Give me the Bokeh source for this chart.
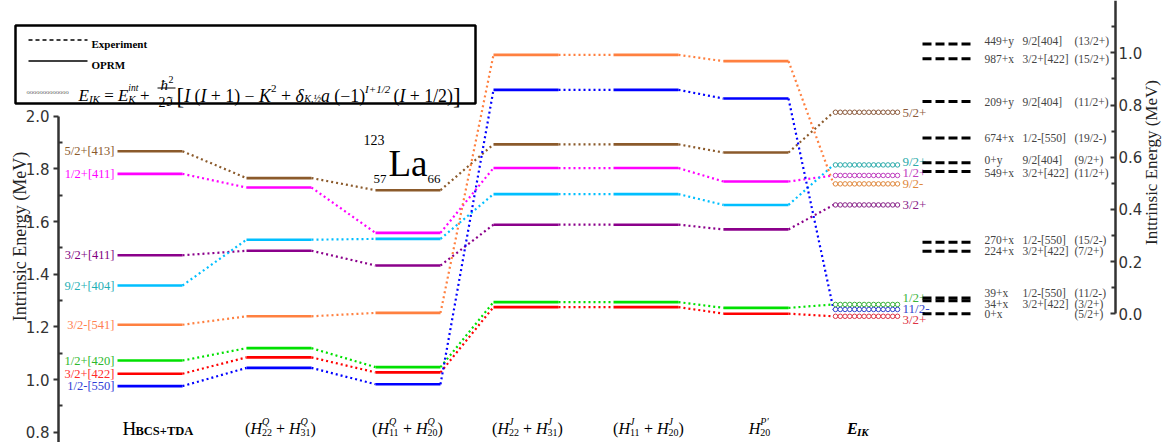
import math
import numpy as np
from bokeh.plotting import figure
from bokeh.models import (Range1d, LinearAxis, FixedTicker, BoxAnnotation, Label,
                          Arrow, ColumnDataSource, PrintfTickFormatter)
from bokeh.core.properties import value
from bokeh.embed import file_html
from bokeh.resources import INLINE

# ---------------- data ----------------
stage_names = ["H BCS+TDA", "(H^Q_22 + H^Q_31)", "(H^Q_11 + H^Q_20)",
               "(H^J_22 + H^J_31)", "(H^J_11 + H^J_20)", "H^P'_20", "E_IK"]
orbitals = ["5/2+[413]", "1/2+[411]", "3/2+[411]", "9/2+[404]",
            "3/2-[541]", "1/2+[420]", "3/2+[422]", "1/2-[550]"]
level_5_2p_413 = [1.867, 1.765, 1.719, 1.893, 1.893, 1.862]
level_1_2p_411 = [1.781, 1.729, 1.557, 1.803, 1.803, 1.752]
level_3_2p_411 = [1.472, 1.489, 1.433, 1.588, 1.588, 1.570]
level_9_2p_404 = [1.357, 1.531, 1.534, 1.704, 1.704, 1.663]
level_3_2m_541 = [1.208, 1.240, 1.253, 2.233, 2.233, 2.209]
level_1_2p_420 = [1.072, 1.119, 1.047, 1.294, 1.294, 1.272]
level_3_2p_422 = [1.022, 1.084, 1.027, 1.275, 1.275, 1.250]
level_1_2m_550 = [0.975, 1.044, 0.982, 2.100, 2.100, 2.067]
eik_energy = [2.015, 1.775, 1.663, 1.815, 1.743, 1.285, 1.240, 1.266]
eik_spin = ["5/2+", "1/2+", "3/2+", "9/2+", "9/2-", "1/2+", "3/2+", "11/2-"]

exp_energy = [1.034, 0.977, 0.813, 0.674, 0.579, 0.545, 0.274, 0.240, 0.061, 0.050, 0.0]
exp_band = ["449+y", "987+x", "209+y", "674+x", "0+y", "549+x",
            "270+x", "224+x", "39+x", "34+x", "0+x"]
exp_config = ["9/2[404]", "3/2+[422]", "9/2[404]", "1/2-[550]", "9/2[404]", "3/2+[422]",
              "1/2-[550]", "3/2+[422]", "1/2-[550]", "3/2+[422]", ""]
exp_spin = ["(13/2+)", "(15/2+)", "(11/2+)", "(19/2-)", "(9/2+)", "(11/2+)",
            "(15/2-)", "(7/2+)", "(11/2-)", "(3/2+)", "(5/2+)"]

left_ticks = [0.8, 1.0, 1.2, 1.4, 1.6, 1.8, 2.0]
left_minor = [0.9, 1.1, 1.3, 1.5, 1.7, 1.9]
right_ticks = [0.0, 0.2, 0.4, 0.6, 0.8, 1.0]
right_minor = [0.1, 0.3, 0.5, 0.7, 0.9, 1.1]

levels = [level_5_2p_413, level_1_2p_411, level_3_2p_411, level_9_2p_404,
          level_3_2m_541, level_1_2p_420, level_3_2p_422, level_1_2m_550]

# ---------------- styles / layout ----------------
line_colors = ["#8B5A2B", "#FF00FF", "#8B008B", "#00BFFF", "#FF8040", "#00E000", "#FF0000", "#0000FF"]
label_colors = ["#8B5A2B", "#FF00FF", "#800080", "#1FAFB5", "#FF7F50", "#2DB82D", "#FF2A2A", "#2F3BD6"]
eik_colors = ["#8B5A3C", "#C040C0", "#882288", "#2AAAAA", "#E0883C", "#3CB43C", "#DD3344", "#3344CC"]
eik_label_dy = [0, -3, 0, -3, 0, -7, 3, -1]
exp_label_dy = [-2.5, 0, 0, 0, -3, 1, -2, 0, -4.5, 3.5, 0]

SERIF = "Liberation Serif"
col_start = [117, 246, 375, 493, 613, 723]
col_w = 65
eik_x0, eik_x1 = 833, 899
n_circ = 14

W, H = 1166, 442
AX_L, AX_R = 58, 1115       # canvas px of the two axes
def left_val(py):
    return 2.0 - (py - 115.7) / 263.3
def right_val(py):
    return (313.3 - py) / 261.0

p = figure(width=W, height=H, output_backend="svg", toolbar_location=None,
           x_range=Range1d(0, W), y_range=Range1d(left_val(H), left_val(0)),
           x_axis_location=None, y_axis_location=None,
           min_border_left=0, min_border_right=0, min_border_top=0, min_border_bottom=0)
p.extra_y_ranges = {"px": Range1d(H, 0), "right": Range1d(right_val(H), right_val(0))}
p.outline_line_color = None
p.background_fill_color = "white"
p.border_fill_color = "white"
p.grid.visible = False

axis_style = dict(axis_line_width=2.5, axis_line_color="#333333",
                  major_tick_line_width=2, major_tick_line_color="#333333",
                  minor_tick_line_width=2, minor_tick_line_color="#333333",
                  major_label_text_font="DejaVu Sans", major_label_text_font_size="15px",
                  major_label_text_color="#333333",
                  formatter=PrintfTickFormatter(format="%.1f"))
ax_l = LinearAxis(bounds=(0.6, 2.0), fixed_location=AX_L,
                  ticker=FixedTicker(ticks=left_ticks, minor_ticks=left_minor),
                  major_tick_out=5, major_tick_in=0, minor_tick_out=0, minor_tick_in=4,
                  major_label_standoff=4, **axis_style)
p.add_layout(ax_l, "left")
ax_r = LinearAxis(y_range_name="right", bounds=(0.0, 1.2), fixed_location=AX_R,
                  ticker=FixedTicker(ticks=right_ticks, minor_ticks=right_minor),
                  major_tick_out=0, major_tick_in=5, minor_tick_out=0, minor_tick_in=4,
                  major_label_standoff=3, **axis_style)
p.add_layout(ax_r, "right")

# ---------------- level lines and connectors ----------------
seg = dict(x0=[], x1=[], y=[], c=[])
con = dict(x0=[], y0=[], x1=[], y1=[], c=[])
circ = dict(x=[], y=[], c=[])
starts = col_start + [eik_x0]
cx = np.linspace(eik_x0 + 2, eik_x1 - 2, n_circ)
for s, lv in enumerate(levels):
    for i, v in enumerate(lv):
        seg["x0"].append(col_start[i]); seg["x1"].append(col_start[i] + col_w)
        seg["y"].append(v); seg["c"].append(line_colors[s])
    pts = list(lv) + [eik_energy[s]]
    for i in range(len(pts) - 1):
        con["x0"].append(starts[i] + col_w); con["x1"].append(starts[i + 1])
        con["y0"].append(pts[i]); con["y1"].append(pts[i + 1]); con["c"].append(line_colors[s])
    for xx in cx:
        circ["x"].append(xx); circ["y"].append(eik_energy[s]); circ["c"].append(eik_colors[s])

p.segment(x0="x0", y0="y0", x1="x1", y1="y1", line_color="c", line_width=2.2,
          line_dash="2 3", source=ColumnDataSource(con))
p.segment(x0="x0", y0="y", x1="x1", y1="y", line_color="c", line_width=2.6,
          source=ColumnDataSource(seg))
p.scatter(x="x", y="y", marker="circle", size=4.5, fill_color="white", line_color="c",
          line_width=1, source=ColumnDataSource(circ))

p.text(x=[col_start[0] - 3] * len(orbitals), y=[lv[0] for lv in levels], text=orbitals,
       text_align="right", text_baseline="middle", text_font=value(SERIF),
       text_font_size="12.5px", text_color=label_colors)

p.text(x=[eik_x1 + 3] * len(eik_spin), y=eik_energy, text=eik_spin, y_offset=eik_label_dy,
       text_align="left", text_baseline="middle", text_font=value(SERIF),
       text_font_size="13px", text_color=eik_colors)

exp_src = ColumnDataSource(dict(x0=[922] * len(exp_energy), x1=[972] * len(exp_energy),
                                y=exp_energy, band=exp_band, cfg=exp_config, spin=exp_spin,
                                dy=exp_label_dy))
p.segment(x0="x0", y0="y", x1="x1", y1="y", y_range_name="right", line_color="black",
          line_width=3, line_dash="9 4", source=exp_src)
for xpos, col in [(984, "band"), (1022, "cfg"), (1074, "spin")]:
    p.text(x=xpos, y="y", text=col, y_offset="dy", y_range_name="right", source=exp_src,
           text_align="left", text_baseline="middle", text_font=value(SERIF),
           text_font_size="11.5px", text_color="#444444")

# ---------------- text helpers ----------------
CW = {'0': .5, '1': .5, '2': .5, '3': .5, '4': .5, '5': .5, '6': .5, '7': .5, '8': .5, '9': .5,
      '(': .333, ')': .333, '+': .564, ' ': .25, '=': .564, '\u2212': .564, '/': .278,
      '[': .333, ']': .333, ',': .25, "'": .2, '\u2032': .25, 'H': .722, 'Q': .722, 'J': .444,
      'P': .611, 'E': .611, 'I': .333, 'K': .667, 'B': .667, 'C': .667, 'S': .556, 'T': .611,
      'D': .722, 'A': .722, 'a': .5, 'i': .278, 'n': .5, 't': .278, '\u03b4': .5,
      '\u0127': .5, '\u2111': .7, '\u00bd': .75}

def tw(s, size):
    return sum(CW.get(c, .5) for c in s) * size

def lab(x, y, text, size, style="normal", color="black", align="left",
        baseline="alphabetic", angle=0.0, font=SERIF):
    p.add_layout(Label(x=x, y=y, y_range_name="px", text=text, text_font=font,
                       text_font_size=f"{size}px", text_font_style=style,
                       text_color=color, text_align=align, text_baseline=baseline,
                       angle=angle))

def hline(x0, x1, y, width, dash="solid"):
    p.add_layout(Arrow(x_start=x0, y_start=y, x_end=x1, y_end=y, start=None, end=None,
                       y_range_name="px", line_dash=dash, line_width=width,
                       line_color="black"))

def compose(x, y, parts, anchor="left"):
    total = sum(tw(t, sz) for t, sz, st, dy, adv in parts if adv)
    if anchor == "center":
        x -= total / 2
    for t, sz, st, dy, adv in parts:
        lead = len(t) - len(t.lstrip(" "))
        lab(x + tw(t[:lead], sz), y + dy, t.strip(" "), sz, st)
        if adv:
            x += tw(t, sz)
    return x

# ---------------- legend box ----------------
p.add_layout(BoxAnnotation(left=15, right=475, top=25, bottom=103, y_range_name="px",
                           fill_color="white", fill_alpha=1.0, line_color="black",
                           line_alpha=1.0, line_width=2.5))
hline(28, 87, 39.5, 1.5, "4 3")
hline(28, 87, 60.5, 1.5)
lab(91, 43.5, "Experiment", 11, "bold")
lab(91, 64.5, "OPRM", 11, "bold")
lab(26, 91, "ooooooooooooo", 6.5, "normal", "#555555")

It, Nm = "italic", "normal"
F = 17
compose(78, 95, [("E", F, It, 0, True), ("IK", 11, It, 3, True), (" = ", F, Nm, 0, True),
                 ("E", F, It, 0, True), ("int", 9.5, It, -8, False), ("K", 11, It, 3, True),
                 (" + ", F, Nm, 0, True)])
lab(160, 84, "\u0127", 15, It)
lab(168, 79, "2", 10, Nm)
hline(157, 175, 87.5, 1)
lab(158, 101, "2", 14, Nm)
lab(165, 101, "\u2111", 13, Nm, font="DejaVu Serif")
F2 = 17.8
compose(176, 96, [("[", 23, Nm, 0, True), ("I", F2, It, -1, True), (" (", F2, Nm, -1, True),
                  ("I", F2, It, -1, True), (" + 1) \u2212 ", F2, Nm, -1, True),
                  ("K", F2, It, -1, True), ("2", 11, Nm, -8, True), (" + ", F2, Nm, -1, True),
                  ("\u03b4", F2, It, -1, True), ("K,\u00bd", 10, It, 2, True),
                  ("a", F2, It, -1, True), (" (\u22121)", F2, Nm, -1, True),
                  ("I+1/2", 11, It, -8, True), (" (", F2, Nm, -1, True), ("I", F2, It, -1, True),
                  (" + 1/2)", F2, Nm, -1, True), ("]", 23, Nm, 0, True)])

# ---------------- nucleus label ----------------
lab(363, 139, "123", 14)
lab(388, 163, "La", 37)
lab(373, 178, "57", 13)
lab(427, 178, "66", 13)

# ---------------- axis titles ----------------
lab(19, 236, "Intrinsic Energy (MeV)", 18, angle=math.pi / 2, align="center",
    baseline="middle", color="#222222")
lab(1151, 162, "Inttrinsic Energy (MeV)", 17, angle=math.pi / 2, align="center",
    baseline="middle", color="#222222")

# ---------------- stage labels ----------------
yb = 428
lab(122, yb, "H", 19)
lab(135, yb + 2, "BCS+TDA", 12.5, "bold")
def hsum(sup, a, b):
    return [("(", 16, Nm, 0, True), ("H", 16, It, 0, True), (sup, 10, It, -7, False),
            (a, 10, Nm, 4, True), (" + ", 16, Nm, 0, True), ("H", 16, It, 0, True),
            (sup, 10, It, -7, False), (b, 10, Nm, 4, True), (")", 16, Nm, 0, True)]
compose(280, yb, hsum("Q", "22", "31"), "center")
compose(407, yb, hsum("Q", "11", "20"), "center")
compose(527, yb, hsum("J", "22", "31"), "center")
compose(648, yb, hsum("J", "11", "20"), "center")
compose(759, yb, [("H", 16, It, 0, True), ("P\u2032", 10, It, -7, False),
                  ("20", 10, Nm, 4, True)], "center")
compose(857, yb, [("E", 16, "bold italic", 0, True), ("IK", 11, "bold italic", 3, True)],
        "center")

open("out.html", "w").write(file_html(p, INLINE))
